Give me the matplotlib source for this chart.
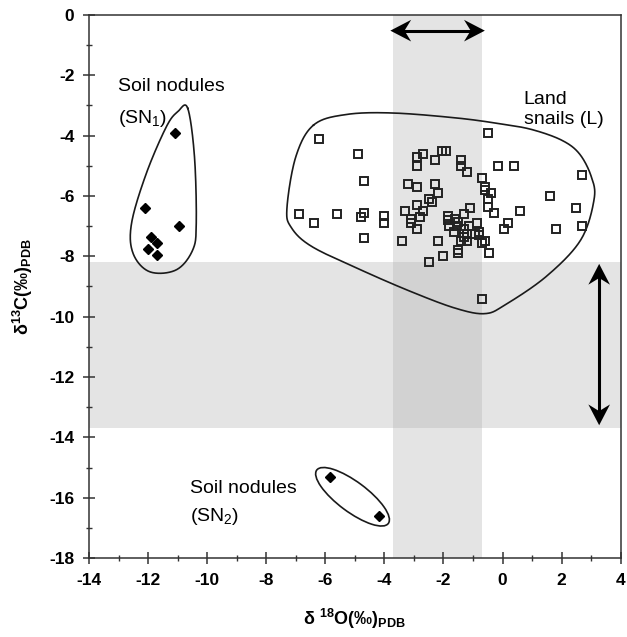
import numpy as np
import matplotlib
matplotlib.use("Agg")
import matplotlib.pyplot as plt
from matplotlib.patches import Rectangle, Ellipse, Polygon
from matplotlib.transforms import Affine2D, ScaledTranslation

plt.rcParams['font.family'] = ['Liberation Sans', 'DejaVu Sans']
plt.rcParams['axes.unicode_minus'] = False
plt.rcParams['mathtext.fontset'] = 'custom'
plt.rcParams['mathtext.rm'] = 'Liberation Sans:bold'
plt.rcParams['mathtext.it'] = 'Liberation Sans:bold'
plt.rcParams['mathtext.bf'] = 'Liberation Sans:bold'
plt.rcParams['mathtext.default'] = 'bf'

# ---- data: d18O (x) and d13C (y), per mil PDB ----
snail_d18o = [-6.2, -4.9, -4.7, -6.9, -6.4, -5.6, -4.7, -4.8, -4.0, -4.0, -4.7,
              -3.4, -3.3, -3.2, -2.9, -2.9, -2.7, -2.9, -2.3, -2.05, -1.9,
              -2.3, -2.2, -2.5, -2.4, -2.9, -2.7, -3.1, -3.1, -2.9, -2.8,
              -2.2, -2.0, -2.5, -1.4, -1.4, -1.2, -0.7, -0.6, -0.6, -0.4,
              -0.5, -0.5, -0.3, -1.1, -1.3, -1.85, -1.6, -1.85, -1.5, -1.8,
              -1.55, -1.65, -1.3, -1.15, -0.85, -0.8, -0.8, -0.95, -1.2, -1.3,
              -1.4, -1.2, -0.7, -0.6, -1.5, -1.5, -0.45, -0.5, -0.7,
              -0.15, 0.4, 2.7, 1.6, 2.5, 2.7, 1.8, 0.6, 0.2, 0.05]
snail_d13c = [-4.1, -4.6, -5.5, -6.6, -6.9, -6.6, -6.55, -6.7, -6.65, -6.9, -7.4,
              -7.5, -6.5, -5.6, -5.7, -4.7, -4.6, -5.0, -4.8, -4.5, -4.5,
              -5.6, -5.9, -6.1, -6.2, -6.3, -6.5, -6.75, -6.9, -7.1, -6.7,
              -7.5, -8.0, -8.2, -4.8, -5.0, -5.2, -5.4, -5.7, -5.8, -5.9,
              -6.1, -6.35, -6.55, -6.4, -6.6, -6.65, -6.75, -6.8, -6.85, -7.0,
              -7.0, -7.2, -7.1, -7.0, -6.9, -7.3, -7.2, -7.25, -7.25, -7.35,
              -7.5, -7.5, -7.55, -7.5, -7.8, -7.9, -7.9, -3.9, -9.4,
              -5.0, -5.0, -5.3, -6.0, -6.4, -7.0, -7.1, -6.5, -6.9, -7.1]

sn1_d18o = [-11.1, -12.1, -10.95, -11.9, -11.7, -12.0, -11.7]
sn1_d13c = [-3.9, -6.4, -7.0, -7.35, -7.57, -7.77, -7.95]

sn2_d18o = [-5.85, -4.2]
sn2_d13c = [-15.3, -16.6]

# ranges shown as shaded bands
o_range = [-3.7, -0.7]
c_range = [-13.7, -8.2]

x_ticks = list(range(-14, 5, 2))
y_ticks = list(range(-18, 1, 2))

# group outlines (closed, smoothed)
sn1_outline_x = [-10.66, -10.43, -10.37, -10.49, -11.05, -11.95, -12.51, -12.56, -12.06, -11.38, -10.99]
sn1_outline_y = [-3.09, -4.70, -6.90, -7.79, -8.45, -8.51, -7.90, -6.90, -5.25, -3.70, -3.20]

land_outline_x = [-6.4, -5.3, -3.7, -1.5, 0.0, 1.0, 2.0, 2.6, 3.0, 3.1, 2.65, 1.5,
                  0.1, -0.6, -1.6, -3.1, -4.8, -6.45, -7.15, -7.3, -7.0]
land_outline_y = [-3.65, -3.3, -3.25, -3.42, -3.62, -3.8, -4.15, -4.6, -5.35, -6.1, -7.45, -8.65,
                  -9.6, -9.9, -9.72, -9.17, -8.45, -7.68, -7.05, -6.4, -4.7]


def closed_spline(xs, ys, n=30):
    """Periodic Catmull-Rom curve through the given nodes."""
    p = np.column_stack([xs, ys])
    m = len(p)
    out = []
    t = np.linspace(0, 1, n, endpoint=False)[:, None]
    for i in range(m):
        p0, p1, p2, p3 = p[(i - 1) % m], p[i], p[(i + 1) % m], p[(i + 2) % m]
        seg = 0.5 * ((2 * p1) + (-p0 + p2) * t + (2 * p0 - 5 * p1 + 4 * p2 - p3) * t ** 2
                     + (-p0 + 3 * p1 - 3 * p2 + p3) * t ** 3)
        out.append(seg)
    out = np.vstack(out)
    out = np.vstack([out, out[:1]])
    return out[:, 0], out[:, 1]


HEAD_LEN = 15.0    # points
HEAD_HALF = 7.8    # points
HEAD_NOTCH = 0.68


def add_head(ax, tip, angle_deg):
    """Swept-back arrowhead (sizes in points) with its tip at a data point."""
    verts = np.array([(0, 0), (-HEAD_LEN, HEAD_HALF), (-HEAD_NOTCH * HEAD_LEN, 0),
                      (-HEAD_LEN, -HEAD_HALF)])
    trans = (Affine2D().rotate_deg(angle_deg).scale(ax.figure.dpi / 72.0)
             + ScaledTranslation(tip[0], tip[1], ax.transData))
    ax.add_patch(Polygon(verts, closed=True, transform=trans, facecolor='black',
                         edgecolor='none', zorder=5))


def double_arrow(ax, p0, p1, angle):
    # shaft ends inside the heads so it never pokes past the tips
    d0, d1 = ax.transData.transform([p0, p1])
    u = (d1 - d0) / np.linalg.norm(d1 - d0)
    cut = 0.45 * HEAD_LEN * ax.figure.dpi / 72.0
    s0, s1 = ax.transData.inverted().transform([d0 + u * cut, d1 - u * cut])
    ax.plot([s0[0], s1[0]], [s0[1], s1[1]], color='black', lw=2.2,
            solid_capstyle='butt', zorder=4)
    add_head(ax, p1, angle)
    add_head(ax, p0, angle + 180)


fig = plt.figure(figsize=(6.27, 6.37), dpi=100)
ax = fig.add_axes([0.142, 0.124, 0.848, 0.8525])
ax.set_xlim(-14, 4)
ax.set_ylim(-18, 0)

band = '#e4e4e4'
overlap = '#d2d2d2'
ax.axvspan(o_range[0], o_range[1], color=band, lw=0, zorder=0)
ax.axhspan(c_range[0], c_range[1], color=band, lw=0, zorder=0)
ax.add_patch(Rectangle((o_range[0], c_range[0]), o_range[1] - o_range[0],
                       c_range[1] - c_range[0], color=overlap, lw=0, zorder=0.5))

line_c = '#1a1a1a'
for xs, ys in [(sn1_outline_x, sn1_outline_y), (land_outline_x, land_outline_y)]:
    cx, cy = closed_spline(xs, ys)
    ax.plot(cx, cy, color=line_c, lw=1.2, zorder=2)
ax.add_patch(Ellipse((-5.08, -15.97), 3.0, 1.0, angle=-36, fill=False,
                     ec=line_c, lw=1.2, zorder=2))

ax.plot(snail_d18o, snail_d13c, ls='none', marker='s', ms=6.4, mfc='none',
        mec='#222222', mew=1.4, zorder=3)
ax.plot(sn1_d18o, sn1_d13c, ls='none', marker='D', ms=5, color='black', zorder=3)
ax.plot(sn2_d18o, sn2_d13c, ls='none', marker='D', ms=5, color='black', zorder=3)

# range arrows
double_arrow(ax, (o_range[0] - 0.1, -0.52), (o_range[1] + 0.1, -0.52), 0)
double_arrow(ax, (3.27, c_range[0] + 0.1), (3.27, c_range[1] - 0.05), 90)

lab_kw = dict(fontsize=14, color='black', va='center', ha='left')
ax.text(-13.02, -2.38, 'Soil nodules', **lab_kw)
ax.text(-13.02, -3.42, '(SN$_\\mathregular{1}$)', **lab_kw)
ax.text(-10.58, -15.68, 'Soil nodules', **lab_kw)
ax.text(-10.58, -16.64, '(SN$_\\mathregular{2}$)', **lab_kw)
ax.text(0.71, -2.8, 'Land', **lab_kw)
ax.text(0.71, -3.45, 'snails (L)', **lab_kw)

ax.set_xticks(x_ticks, labels=[str(v) for v in x_ticks], fontweight='bold', fontsize=12.5)
ax.set_xticks(np.arange(-13, 4, 2), minor=True)
ax.set_yticks(y_ticks, labels=[str(v) for v in y_ticks], fontweight='bold', fontsize=12.5)
ax.set_yticks(np.arange(-17, 0, 2), minor=True)
ax.tick_params(which='major', direction='inout', length=9, width=1.1, color='#333333', pad=6)
ax.tick_params(which='minor', direction='inout', length=5, width=1.0, color='#333333')
for s in ax.spines.values():
    s.set_color('#333333')
    s.set_linewidth(1.1)

ax.set_xlabel('δ $^{18}$O(‰)$_{PDB}$', fontsize=13, fontweight='bold', labelpad=14)
ax.set_ylabel('δ$^{13}$C(‰)$_{PDB}$', fontsize=13, fontweight='bold', labelpad=10)

fig.savefig('out.png', dpi=100)
